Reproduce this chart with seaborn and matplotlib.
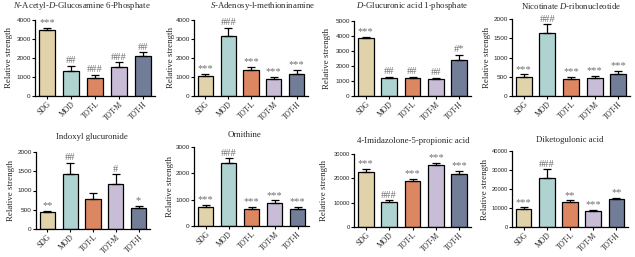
import matplotlib
matplotlib.use("Agg")
import matplotlib.pyplot as plt
import seaborn as sns
import pandas as pd
import numpy as np

sns.set_style("ticks")
plt.rcParams['font.family'] = ['Liberation Serif', 'DejaVu Serif']
plt.rcParams['mathtext.fontset'] = 'custom'
plt.rcParams['mathtext.rm'] = 'Liberation Serif'
plt.rcParams['mathtext.it'] = 'Liberation Serif:italic'

groups = ["SDG", "MOD", "TOT-L", "TOT-M", "TOT-H"]
colors = ["#EAD7A0", "#A9D9D6", "#F07F4C", "#C7B8DA", "#6C7A9E"]

titles = [
    r"$\mathit{N}$-Acetyl-$\mathit{D}$-Glucosamine 6-Phosphate",
    r"$\mathit{S}$-Adenosy-l-methioninamine",
    r"$\mathit{D}$-Glucuronic acid 1-phosphate",
    r"Nicotinate $\mathit{D}$-ribonucleotide",
    "Indoxyl glucuronide",
    "Ornithine",
    "4-Imidazolone-5-propionic acid",
    "Diketogulonic acid",
]

means_1 = [3450, 1320, 960, 1550, 2100]
errs_1 = [150, 250, 150, 220, 200]
marks_1 = ["***", "##", "###", "###", "##"]

means_2 = [1030, 3150, 1350, 870, 1150]
errs_2 = [150, 450, 180, 150, 200]
marks_2 = ["***", "###", "***", "***", "***"]

means_3 = [3850, 1200, 1180, 1130, 2400]
errs_3 = [80, 80, 100, 80, 350]
marks_3 = ["***", "##", "##", "##", "#*"]

means_4 = [500, 1640, 450, 460, 580]
errs_4 = [60, 220, 40, 50, 70]
marks_4 = ["***", "###", "***", "***", "***"]

means_5 = [430, 1430, 770, 1170, 540]
errs_5 = [30, 280, 170, 250, 70]
marks_5 = ["**", "##", "", "#", "*"]

means_6 = [720, 2400, 640, 860, 650]
errs_6 = [80, 170, 70, 110, 70]
marks_6 = ["***", "###", "***", "***", "***"]

means_7 = [22500, 10200, 18700, 25300, 21700]
errs_7 = [1300, 800, 900, 1000, 1300]
marks_7 = ["***", "###", "***", "***", "***"]

means_8 = [9600, 26000, 13200, 8600, 14800]
errs_8 = [700, 4300, 800, 600, 400]
marks_8 = ["***", "###", "**", "***", "**"]

yticks = [
    [0, 1000, 2000, 3000, 4000],
    [0, 1000, 2000, 3000, 4000],
    [0, 1000, 2000, 3000, 4000, 5000],
    [0, 500, 1000, 1500, 2000],
    [0, 500, 1000, 1500, 2000],
    [0, 1000, 2000, 3000],
    [0, 10000, 20000, 30000],
    [0, 10000, 20000, 30000, 40000],
]

means = [means_1, means_2, means_3, means_4, means_5, means_6, means_7, means_8]
errs = [errs_1, errs_2, errs_3, errs_4, errs_5, errs_6, errs_7, errs_8]
marks = [marks_1, marks_2, marks_3, marks_4, marks_5, marks_6, marks_7, marks_8]

W, H = 635, 257
# layout in pixels: left, right, top, bottom
boxes = [
    (35, 155, 20, 96), (194, 308, 20, 96), (354, 471, 21, 96), (512, 630, 19, 96),
    (36, 150, 152, 229), (194, 309, 147, 226), (354, 471, 154, 227), (512, 628, 151, 227),
]
title_pos = [(82, 6), (263, 6), (412, 6), (571, 6), (92, 137), (245, 135), (413, 141), (570, 140)]
ylab_x = [9, 171, 327, 487, 11, 170, 324, 485]

fig = plt.figure(figsize=(W / 100, H / 100), dpi=100)

for i in range(8):
    l, r, t, b = boxes[i]
    ax = fig.add_axes([l / W, 1 - b / H, (r - l) / W, (b - t) / H])
    df = pd.DataFrame({"group": groups, "value": means[i]})
    sns.barplot(data=df, x="group", y="value", hue="group", palette=colors,
                order=groups, hue_order=groups, legend=False, errorbar=None,
                edgecolor="black", linewidth=0.9, width=0.67, ax=ax)
    x = np.arange(len(groups))
    m = np.array(means[i], dtype=float)
    e = np.array(errs[i], dtype=float)
    ax.errorbar(x, m, yerr=[np.zeros_like(e), e], fmt="none", ecolor="black",
                elinewidth=0.9, capsize=2.8, capthick=0.9, zorder=1)
    ymax = yticks[i][-1]
    ax.set_ylim(0, ymax)
    ax.set_xlim(-0.5, 4.5)
    ax.set_yticks(yticks[i])
    ax.set_yticklabels([str(v) for v in yticks[i]], family="Liberation Sans",
                       fontsize=4.2 if ymax >= 10000 else 4.6)
    ax.set_xticks(x)
    ax.set_xticklabels(groups, rotation=45, ha="right", rotation_mode="anchor",
                       fontsize=5.5)
    ax.set_xlabel("")
    ax.set_ylabel("")
    for s in ["top", "right"]:
        ax.spines[s].set_visible(False)
    for s in ["left", "bottom"]:
        ax.spines[s].set_linewidth(0.9)
        ax.spines[s].set_color("black")
    ax.tick_params(axis="both", length=2, width=0.8, pad=1, color="black")
    for xi, mi, ei, mk in zip(x, m, e, marks[i]):
        if mk:
            ax.text(xi, mi + ei + ymax * 0.01, mk, ha="center", va="bottom",
                    fontsize=7.5, color="#707070")
    tx, ty = title_pos[i]
    fig.text(tx / W, 1 - ty / H, titles[i], ha="center", va="center", fontsize=6.3)
    fig.text(ylab_x[i] / W, 1 - ((t + b) / 2) / H, "Relative strength",
             rotation=90, ha="center", va="center", fontsize=6.4)

fig.savefig("out.png", dpi=100)
